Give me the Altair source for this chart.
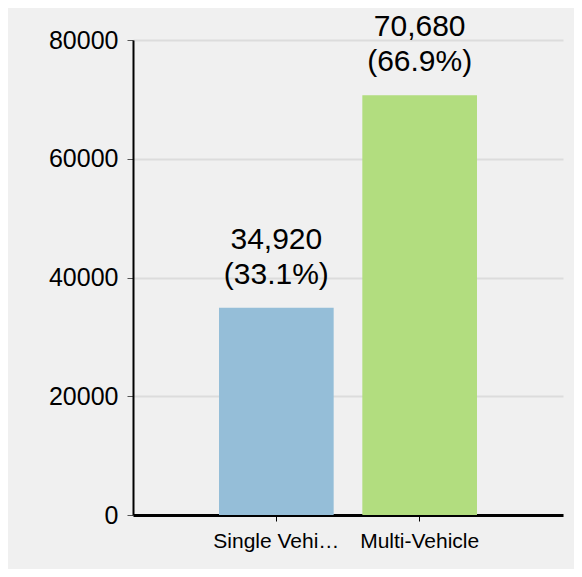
import altair as alt
import pandas as pd

categories = ["Single Vehicle", "Multi-Vehicle"]
values = [34920, 70680]
colors = ["#95bed8", "#b2dd7f"]

total = sum(values)
labels = [f"{v:,}\n({v / total * 100:.1f}%)" for v in values]

df = pd.DataFrame({"category": categories, "value": values, "label": labels})

FONT = "Liberation Sans"

x = alt.X(
    "category:N",
    sort=categories,
    title=None,
    scale=alt.Scale(paddingInner=0.2, paddingOuter=0.6),
    axis=alt.Axis(
        labelAngle=0,
        labelFont=FONT,
        labelFontSize=21,
        labelColor="#000000",
        labelLimit=128,
        labelPadding=9,
        domainColor="#000000",
        domainWidth=3,
        tickColor="#000000",
        tickSize=6,
        tickWidth=1,
        grid=False,
    ),
)

y = alt.Y(
    "value:Q",
    title=None,
    scale=alt.Scale(domain=[0, 80000], nice=False),
    axis=alt.Axis(
        values=[0, 20000, 40000, 60000, 80000],
        format="d",
        labelFont=FONT,
        labelFontSize=25,
        labelColor="#000000",
        labelPadding=9,
        domainColor="#000000",
        domainWidth=2,
        tickColor="#555555",
        tickSize=6,
        tickWidth=1,
        grid=True,
        gridColor="#dcdcdc",
        gridWidth=2,
    ),
)

bars = alt.Chart(df).mark_bar().encode(
    x=x,
    y=y,
    color=alt.Color("category:N", scale=alt.Scale(domain=categories, range=colors), legend=None),
)

text = alt.Chart(df).mark_text(
    font=FONT,
    fontSize=30,
    color="#000000",
    baseline="bottom",
    align="center",
    dy=-53,
    lineBreak="\n",
    lineHeight=35,
).encode(
    x=alt.X("category:N", sort=categories),
    y=alt.Y("value:Q"),
    text="label:N",
)

chart = (
    alt.layer(bars, text)
    .properties(
        width=430,
        height=475,
        background="#f0f0f0",
        padding={"left": 125, "top": 32, "right": 11, "bottom": 54},
        autosize=alt.AutoSizeParams(type="none"),
    )
    .configure_view(stroke=None)
)

chart.save("out.html", embed_options={"renderer": "svg", "actions": False})
